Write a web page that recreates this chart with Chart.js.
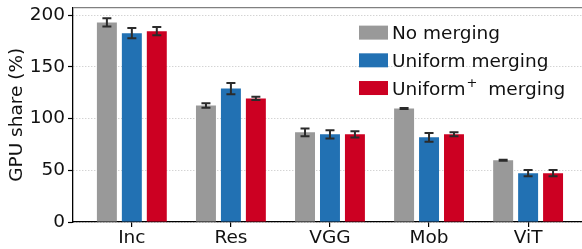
<!DOCTYPE html>
<html><head><meta charset="utf-8">
<script src="https://cdn.jsdelivr.net/npm/chart.js@4/dist/chart.umd.min.js"></script>
<style>html,body{margin:0;padding:0;background:#fff;overflow:hidden}</style>
</head><body>
<canvas id="c" width="582" height="249"></canvas>
<script>
const categories = ['Inc', 'Res', 'VGG', 'Mob', 'ViT'];
const seriesNames = ['No merging', 'Uniform merging', 'Uniform\u207A merging'];
const noMerging = [193.0, 112.7, 86.7, 109.8, 59.7];
const noMergingErr = [4.0, 2.2, 3.7, 0.5, 0.5];
const uniformMerging = [182.6, 129.0, 84.8, 81.9, 47.2];
const uniformMergingErr = [5.0, 5.5, 4.0, 4.2, 3.0];
const uniformPlusMerging = [184.5, 119.5, 84.8, 84.8, 47.2];
const uniformPlusMergingErr = [4.0, 1.5, 3.0, 2.0, 3.0];
const yTicks = [0, 50, 100, 150, 200];
const colors = ['#999999', '#2271b3', '#cc0022'];

const FONT = 'DejaVu Sans';
const FS = 18.5;
Chart.defaults.font.family = FONT;
Chart.defaults.font.size = FS;
Chart.defaults.color = '#111';

function toPoints(vals) { return vals.map((v, i) => ({x: i, y: v})); }

const allVals = [noMerging, uniformMerging, uniformPlusMerging];
const allErrs = [noMergingErr, uniformMergingErr, uniformPlusMergingErr];

const errorBars = {
  id: 'errorBars',
  afterDatasetsDraw(chart) {
    const ctx = chart.ctx, ys = chart.scales.y;
    ctx.save();
    ctx.strokeStyle = '#2b2b2b';
    ctx.lineWidth = 2;
    chart.data.datasets.forEach((ds, di) => {
      const meta = chart.getDatasetMeta(di);
      meta.data.forEach((bar, i) => {
        const v = allVals[di][i], e = allErrs[di][i];
        const y1 = ys.getPixelForValue(v + e), y2 = ys.getPixelForValue(v - e);
        const x = bar.x;
        ctx.beginPath();
        ctx.moveTo(x, y1); ctx.lineTo(x, y2);
        ctx.moveTo(x - 4.5, y1); ctx.lineTo(x + 4.5, y1);
        ctx.moveTo(x - 4.5, y2); ctx.lineTo(x + 4.5, y2);
        ctx.stroke();
      });
    });
    ctx.restore();
  }
};

const frameAndLegend = {
  id: 'frameAndLegend',
  afterDraw(chart) {
    const ctx = chart.ctx, a = chart.chartArea;
    ctx.save();
    // top spine
    ctx.strokeStyle = '#808080';
    ctx.lineWidth = 1.3;
    ctx.beginPath();
    ctx.moveTo(a.left, a.top); ctx.lineTo(a.right, a.top);
    ctx.stroke();
    // legend
    const mainFont = FS + 'px "' + FONT + '"';
    const supFont = '13px "' + FONT + '"';
    ctx.textBaseline = 'alphabetic';
    ctx.textAlign = 'left';
    const bx = a.right - 223;
    chart.data.datasets.forEach((ds, i) => {
      const cy = a.top + 25 + i * 27.7;
      ctx.fillStyle = ds.backgroundColor;
      ctx.fillRect(bx, cy - 7, 29, 14);
      ctx.fillStyle = '#111';
      ctx.font = mainFont;
      const by = cy + 6.5;
      let x = bx + 33;
      const parts = ds.label.split('\u207A');
      if (parts.length === 2) {
        ctx.fillText(parts[0], x, by);
        x += ctx.measureText(parts[0]).width + 1;
        ctx.font = supFont;
        ctx.fillText('+', x, by - 7.5);
        x += ctx.measureText('+').width + 1;
        ctx.font = mainFont;
        ctx.fillText(parts[1], x + 4, by);
      } else {
        ctx.fillText(ds.label, x, by);
      }
    });
    ctx.restore();
  }
};

new Chart(document.getElementById('c'), {
  type: 'bar',
  data: {
    datasets: allVals.map((vals, i) => ({
      label: seriesNames[i],
      data: toPoints(vals),
      backgroundColor: colors[i],
      borderWidth: 0,
      categoryPercentage: 0.7557,
      barPercentage: 0.8
    }))
  },
  options: {
    responsive: false,
    animation: false,
    devicePixelRatio: 1,
    layout: {padding: {left: 0, right: 0, top: 7.5, bottom: 0}},
    plugins: {legend: {display: false}, tooltip: {enabled: false}},
    scales: {
      x: {
        type: 'linear',
        min: -0.594,
        max: 4.544,
        offset: false,
        grid: {display: true, drawOnChartArea: false, drawTicks: true, tickLength: 5, tickColor: '#000', offset: false, lineWidth: 1.2},
        border: {display: true, color: '#000', width: 1.3},
        ticks: {padding: 0, color: '#111', font: {size: FS}, maxRotation: 0, autoSkip: false,
          callback: (v) => categories[v]},
        afterBuildTicks: (s) => { s.ticks = categories.map((_, i) => ({value: i})); },
        afterFit: (s) => { s.height = 27; }
      },
      y: {
        min: 0,
        max: 207.3,
        grid: {color: '#c2c2c2', lineWidth: 1, drawTicks: true, tickLength: 5, tickColor: '#000', tickBorderDash: [], tickWidth: 1.2},
        border: {display: true, color: '#000', width: 1.3, dash: [1, 2]},
        ticks: {padding: 3, color: '#111', font: {size: FS, lineHeight: 0.5}, includeBounds: false},
        afterBuildTicks: (s) => { s.ticks = yTicks.map(v => ({value: v})); },
        title: {display: true, text: 'GPU share (%)', color: '#111', font: {size: FS}, padding: {top: 6, bottom: 0}},
        afterFit: (s) => { s.width = 73; }
      }
    }
  },
  plugins: [errorBars, frameAndLegend]
});
</script>
</body></html>
